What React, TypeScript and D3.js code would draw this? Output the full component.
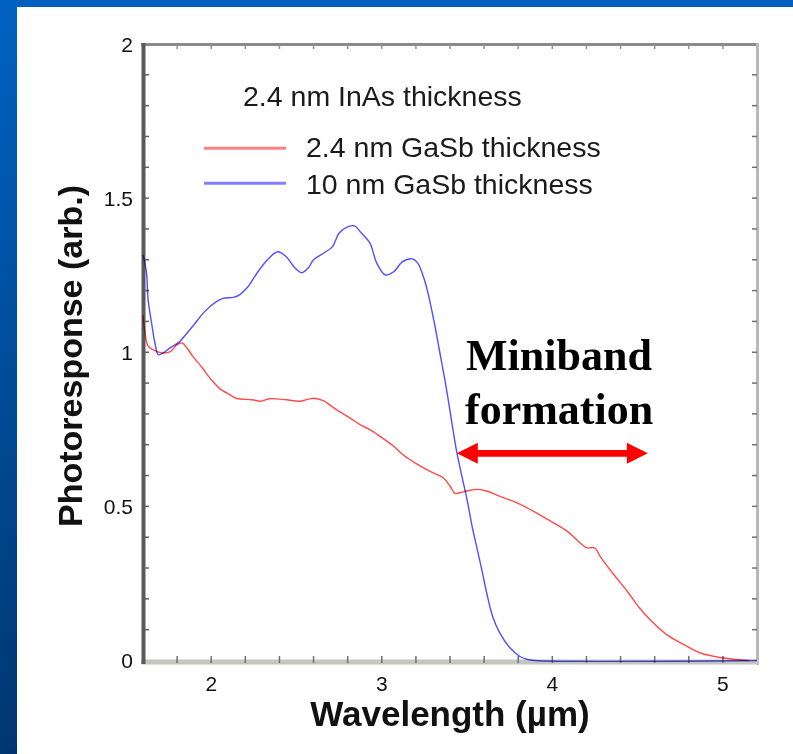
import React from "react";
import * as d3 from "d3";

const W = 793;
const H = 754;

// Series: 2.4 nm GaSb thickness (red)
const redWavelength = [1.6, 1.61, 1.63, 1.67, 1.71, 1.76, 1.8, 1.83, 1.86, 1.89, 1.92, 1.95, 1.98, 2.01, 2.05, 2.11, 2.15, 2.24, 2.29, 2.34, 2.44, 2.52, 2.6, 2.66, 2.7, 2.75, 2.81, 2.87, 2.93, 2.99, 3.07, 3.13, 3.21, 3.28, 3.36, 3.4, 3.43, 3.46, 3.5, 3.56, 3.62, 3.69, 3.79, 3.89, 3.99, 4.09, 4.16, 4.2, 4.25, 4.28, 4.36, 4.44, 4.51, 4.59, 4.67, 4.77, 4.86, 4.96, 5.06, 5.15];
const redResponse = [1.12, 1.07, 1.02, 1.005, 0.998, 1.002, 1.025, 1.03, 1.012, 0.988, 0.968, 0.948, 0.925, 0.905, 0.882, 0.862, 0.85, 0.846, 0.841, 0.849, 0.846, 0.841, 0.851, 0.842, 0.827, 0.808, 0.788, 0.766, 0.749, 0.727, 0.695, 0.665, 0.636, 0.614, 0.593, 0.566, 0.542, 0.545, 0.55, 0.555, 0.549, 0.533, 0.512, 0.484, 0.452, 0.418, 0.383, 0.366, 0.365, 0.338, 0.279, 0.224, 0.171, 0.123, 0.084, 0.052, 0.026, 0.012, 0.004, 0.0];

// Series: 10 nm GaSb thickness (blue)
const blueWavelength = [1.6, 1.62, 1.63, 1.65, 1.67, 1.69, 1.72, 1.76, 1.81, 1.85, 1.9, 1.96, 2.03, 2.07, 2.13, 2.17, 2.21, 2.27, 2.33, 2.39, 2.44, 2.49, 2.53, 2.57, 2.6, 2.66, 2.71, 2.75, 2.8, 2.84, 2.88, 2.93, 2.97, 3.02, 3.07, 3.12, 3.18, 3.21, 3.25, 3.28, 3.31, 3.34, 3.37, 3.4, 3.42, 3.44, 3.47, 3.5, 3.53, 3.56, 3.59, 3.62, 3.65, 3.69, 3.75, 3.81, 3.85, 3.9, 5.2];
const blueResponse = [1.316, 1.26, 1.17, 1.096, 1.03, 0.992, 0.998, 1.015, 1.032, 1.057, 1.09, 1.131, 1.164, 1.175, 1.178, 1.188, 1.209, 1.258, 1.3, 1.326, 1.31, 1.274, 1.258, 1.274, 1.3, 1.322, 1.342, 1.387, 1.407, 1.41, 1.387, 1.355, 1.29, 1.251, 1.261, 1.293, 1.303, 1.29, 1.235, 1.17, 1.09, 1.0, 0.91, 0.81, 0.74, 0.675, 0.597, 0.522, 0.434, 0.36, 0.285, 0.207, 0.143, 0.091, 0.042, 0.013, 0.004, 0, 0];

const xTickLabels = [2, 3, 4, 5];
const yTickLabels = [0, 0.5, 1, 1.5, 2];
const legendTitle = "2.4 nm InAs thickness";
const seriesNames = ["2.4 nm GaSb thickness", "10 nm GaSb thickness"];
const annotationLines = ["Miniband", "formation"];
const arrowRange = [3.44, 4.56];
const arrowLevel = 0.672;

export default function App() {
  const x = d3.scaleLinear().domain([1.6, 5.2]).range([143, 757]);
  const y = d3.scaleLinear().domain([0, 2]).range([660.5, 44]);

  const line = d3
    .line<[number, number]>()
    .x((d) => x(d[0]))
    .y((d) => Math.min(y(0), y(d[1])))
    .curve(d3.curveCatmullRom.alpha(0.5));

  const redPts = redWavelength.map((w, i) => [w, redResponse[i]] as [number, number]);
  const bluePts = blueWavelength.map((w, i) => [w, blueResponse[i]] as [number, number]);

  const xMinor = d3.range(1.8, 5.2, 0.2);
  const yMinor = d3.range(0.1, 2.0, 0.1);

  const ax0 = x(arrowRange[0]);
  const ax1 = x(arrowRange[1]);
  const ay = y(arrowLevel);
  const hl = 21; // head length
  const hh = 10.5; // head half-height
  const sh = 3.3; // shaft half-thickness
  const arrowPath = [
    [ax0, ay],
    [ax0 + hl, ay - hh],
    [ax0 + hl, ay - sh],
    [ax1 - hl, ay - sh],
    [ax1 - hl, ay - hh],
    [ax1, ay],
    [ax1 - hl, ay + hh],
    [ax1 - hl, ay + sh],
    [ax0 + hl, ay + sh],
    [ax0 + hl, ay + hh],
  ]
    .map((p, i) => (i === 0 ? "M" : "L") + p[0] + "," + p[1])
    .join("") + "Z";

  const sans = "'Liberation Sans', Arial, sans-serif";
  const serif = "'Liberation Serif', 'Times New Roman', serif";

  return (
    <svg
      width={W}
      height={H}
      style={{ position: "absolute", left: 0, top: 0, display: "block" }}
    >
      <defs>
        <linearGradient id="leftBand" x1="0" y1="0" x2="0" y2="1">
          <stop offset="0" stopColor="#0062c2" />
          <stop offset="1" stopColor="#003670" />
        </linearGradient>
      </defs>
      <rect x={0} y={0} width={W} height={H} fill="#ffffff" />
      <rect x={0} y={0} width={W} height={7} fill="#0060c0" />
      <rect x={0} y={0} width={17} height={H} fill="url(#leftBand)" />

      {/* frame */}
      <line x1={141} x2={759} y1={44.5} y2={44.5} stroke="#8a8a8a" strokeWidth={3} />
      <line x1={757.5} x2={757.5} y1={43} y2={665} stroke="#b8b8b8" strokeWidth={3} />
      <line x1={141} x2={759} y1={662} y2={662} stroke="#c6c6c0" strokeWidth={5} />
      <line x1={143.5} x2={143.5} y1={43} y2={664} stroke="#5a5a5a" strokeWidth={4} />

      {/* ticks */}
      {xMinor.map((v, i) => (
        <g key={"xt" + i}>
          <line x1={x(v)} x2={x(v)} y1={656} y2={663} stroke="#707070" strokeWidth={1.5} />
          <line x1={x(v)} x2={x(v)} y1={44} y2={49} stroke="#909090" strokeWidth={1.5} />
        </g>
      ))}
      {yMinor.map((v, i) => (
        <g key={"yt" + i}>
          <line x1={143} x2={149} y1={y(v)} y2={y(v)} stroke="#606060" strokeWidth={1.5} />
          <line x1={752} x2={757} y1={y(v)} y2={y(v)} stroke="#707070" strokeWidth={1.5} />
        </g>
      ))}

      {/* tick labels */}
      {xTickLabels.map((v) => (
        <text
          key={"xl" + v}
          x={x(v)}
          y={691}
          textAnchor="middle"
          fontFamily={sans}
          fontSize={21}
          fill="#111"
        >
          {v}
        </text>
      ))}
      {yTickLabels.map((v) => (
        <text
          key={"yl" + v}
          x={133}
          y={y(v) + 7.5}
          textAnchor="end"
          fontFamily={sans}
          fontSize={21}
          fill="#111"
        >
          {v}
        </text>
      ))}

      {/* axis titles */}
      <text
        x={450}
        y={726}
        textAnchor="middle"
        fontFamily={sans}
        fontWeight="bold"
        fontSize={35}
        fill="#111"
      >
        Wavelength (µm)
      </text>
      <text
        transform="translate(82,356) rotate(-90)"
        textAnchor="middle"
        fontFamily={sans}
        fontWeight="bold"
        fontSize={34}
        fill="#111"
      >
        Photoresponse (arb.)
      </text>

      {/* curves */}
      <path
        d={line(bluePts) || ""}
        fill="none"
        stroke="#5050ff"
        strokeWidth={1.4}
        style={{ mixBlendMode: "multiply" }}
      />
      <path
        d={line(redPts) || ""}
        fill="none"
        stroke="#ff4a4a"
        strokeWidth={1.4}
        style={{ mixBlendMode: "multiply" }}
      />

      {/* legend */}
      <text x={243} y={106} fontFamily={sans} fontSize={28.5} fill="#1a1a1a">
        {legendTitle}
      </text>
      <line x1={204} x2={286} y1={148.3} y2={148.3} stroke="#ff8080" strokeWidth={3} />
      <text x={306} y={157} fontFamily={sans} fontSize={28.5} fill="#1a1a1a">
        {seriesNames[0]}
      </text>
      <line x1={204} x2={286} y1={183.3} y2={183.3} stroke="#8080ff" strokeWidth={3} />
      <text x={306} y={194} fontFamily={sans} fontSize={28.5} fill="#1a1a1a">
        {seriesNames[1]}
      </text>

      {/* annotation */}
      <text x={466} y={370} fontFamily={serif} fontWeight="bold" fontSize={44} fill="#000">
        {annotationLines[0]}
      </text>
      <text x={465} y={424} fontFamily={serif} fontWeight="bold" fontSize={44} fill="#000">
        {annotationLines[1]}
      </text>
      <path d={arrowPath} fill="#ff0000" />
    </svg>
  );
}
